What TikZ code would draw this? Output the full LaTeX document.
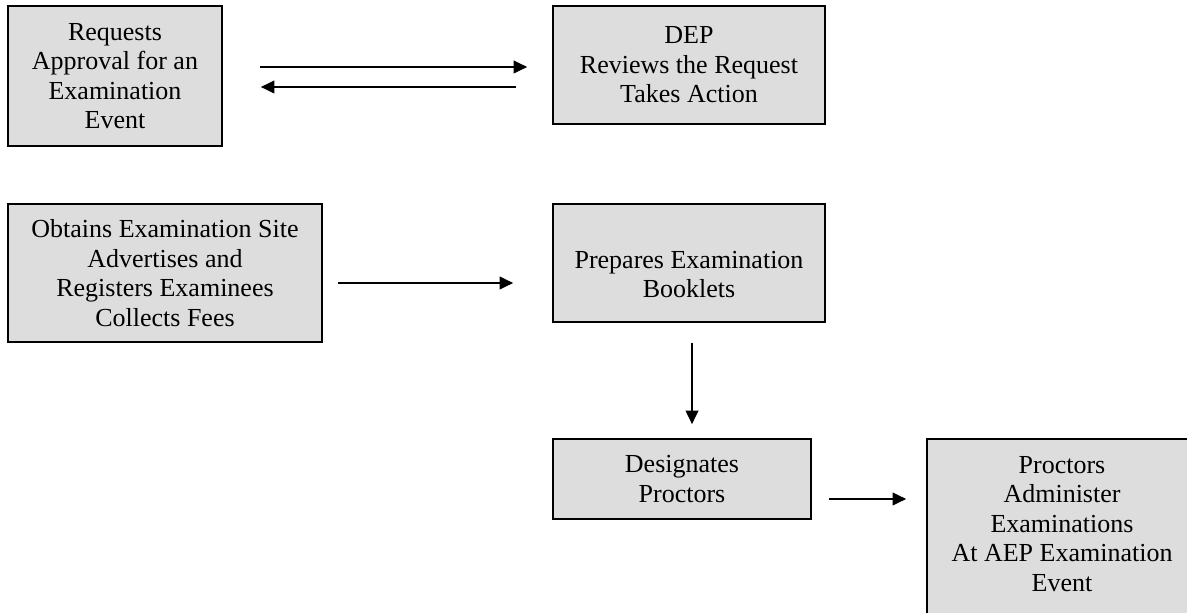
\documentclass[tikz,border=0pt]{standalone}
\usepackage{fontspec}
\setmainfont{Liberation Serif}
\usetikzlibrary{arrows.meta}
\definecolor{boxfill}{RGB}{221,221,221}
\tikzset{
  box/.style={draw=black, fill=boxfill, line width=0.85pt, inner sep=0pt,
    align=center, font=\fontsize{13pt}{14.75pt}\selectfont},
  txt/.style={inner sep=0pt, align=center, font=\fontsize{13pt}{14.75pt}\selectfont},
  arr/.style={line width=0.7pt, -{Triangle[length=6.8pt,width=6.4pt]}}
}
\begin{document}
\begin{tikzpicture}[x=0.5pt, y=-0.5pt]
  \clip (0,0) rectangle (1187,613);
  \fill[white] (0,0) rectangle (1187,613);

  % process boxes
  \node[box, minimum width=107pt, minimum height=70pt] (req) at (115,76)
    {Requests\\Approval for an\\Examination\\Event};
  \node[box, minimum width=136pt, minimum height=59pt] (dep) at (689,65)
    {DEP\\Reviews the Request\\Takes Action};
  \node[box, minimum width=157pt, minimum height=69pt] (site) at (165,273)
    {Obtains Examination Site\\Advertises and\\Registers Examinees\\Collects Fees};
  \node[box, minimum width=136pt, minimum height=59pt] (prep) at (689,263) {};
  \node[txt] (preptxt) at ([yshift=-5.75pt]prep.center) {Prepares Examination\\Booklets};
  \node[box, minimum width=129pt, minimum height=40pt] (desig) at (682,479)
    {Designates\\Proctors};
  \node[box, minimum width=135pt, minimum height=93pt] (admin) at (1062,532) {};
  \node[txt] (admintxt) at ([yshift=4pt]admin.center)
    {Proctors\\Administer\\Examinations\\At AEP Examination\\Event};

  % connectors
  \draw[arr] ([shift={(37,-9)}]req.east) -- ([shift={(-25,2)}]dep.west);
  \draw[arr] ([shift={(-36.5,22)}]dep.west) -- ([shift={(38,11)}]req.east);
  \draw[arr] ([shift={(15,10)}]site.east) -- ([shift={(-39,20)}]prep.west);
  \draw[arr] ([shift={(3,20)}]prep.south) -- ([shift={(10,-14)}]desig.north);
  \draw[arr] ([shift={(17,20)}]desig.east) -- ([shift={(-20,-33)}]admin.west);
\end{tikzpicture}
\end{document}
